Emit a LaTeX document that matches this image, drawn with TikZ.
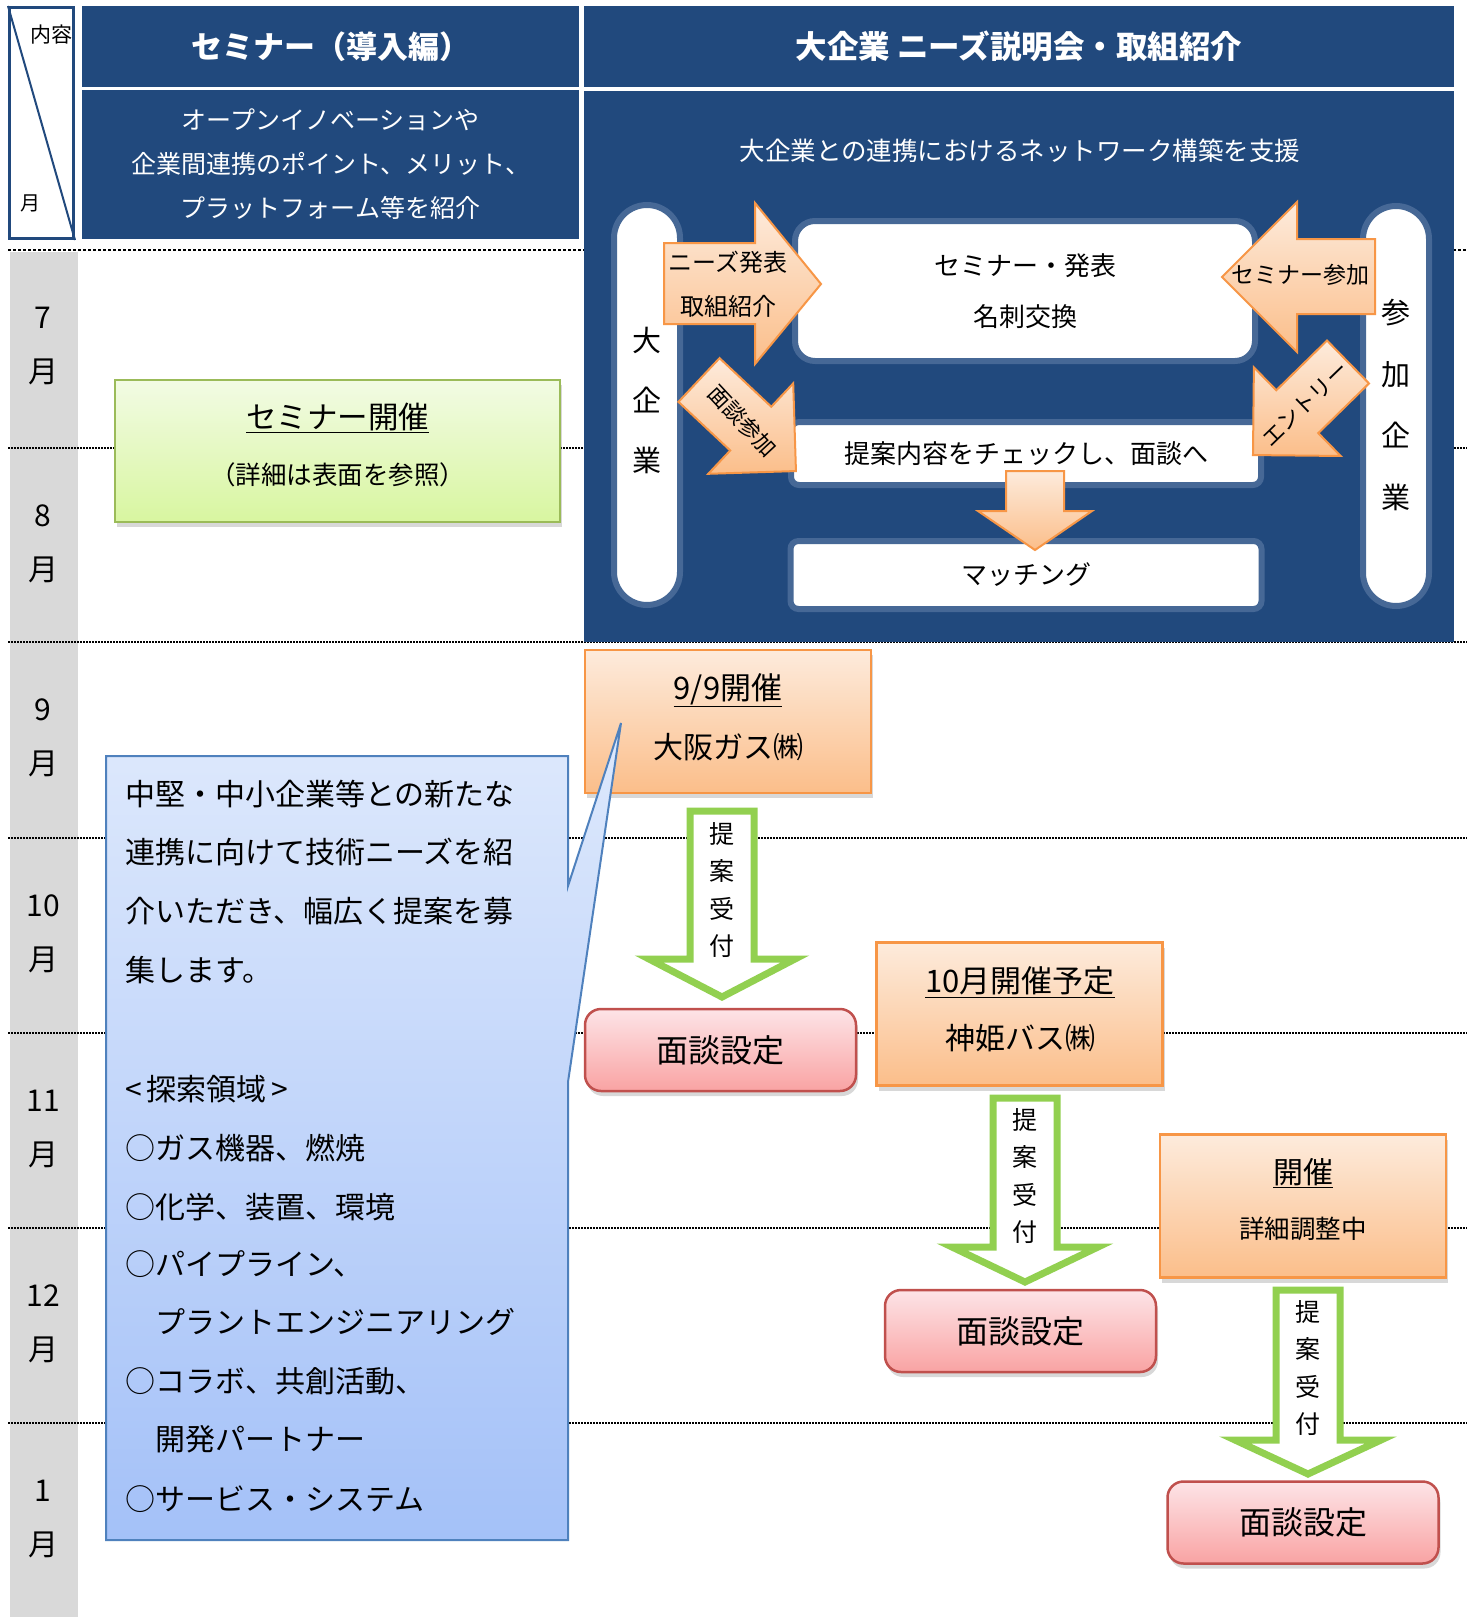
\documentclass[tikz,border=0pt]{standalone}
\usepackage{fontspec}
\setmainfont{Noto Sans CJK JP}
\usepackage{tikz}
\usetikzlibrary{shadows}

\definecolor{navyhead}{RGB}{33,73,125}
\definecolor{glowblue}{RGB}{70,104,150}
\definecolor{greyband}{RGB}{217,217,217}
\definecolor{greenline}{RGB}{155,187,89}
\definecolor{greentop}{RGB}{242,251,228}
\definecolor{greenbot}{RGB}{216,246,160}
\definecolor{orangeline}{RGB}{247,150,70}
\definecolor{orangetop}{RGB}{253,235,220}
\definecolor{orangebot}{RGB}{251,190,138}
\definecolor{pinkline}{RGB}{192,80,77}
\definecolor{pinktop}{RGB}{253,228,231}
\definecolor{pinkbot}{RGB}{249,163,163}
\definecolor{bluetop}{RGB}{222,233,252}
\definecolor{bluebot}{RGB}{164,193,248}
\definecolor{blueline}{RGB}{79,129,189}
\definecolor{arrowgreen}{RGB}{146,208,80}

\newcommand{\fsz}[2]{\fontsize{#1pt}{#2pt}\selectfont}

\tikzset{
  headbox/.style={fill=navyhead, text=white},
  rowline/.style={line width=1.3pt, dash pattern=on 1.6pt off 1.4pt},
  topline/.style={line width=2.8pt, dash pattern=on 3pt off 2pt},
  seminarbox/.style={draw=greenline, line width=2pt, top color=greentop, bottom color=greenbot,
    drop shadow={opacity=0.3, shadow xshift=2pt, shadow yshift=-5pt}},
  pill/.style={fill=white, draw=glowblue, line width=6pt, rounded corners=33pt,
    minimum width=66pt, minimum height=400pt},
  flowbox/.style={fill=white, draw=glowblue, line width=6pt},
  orarrow/.style={draw=orangeline, line width=2pt, top color=orangetop, bottom color=orangebot, line join=miter},
  eventbox/.style={draw=orangeline, line width=2.5pt, top color=orangetop, bottom color=orangebot,
    minimum width=286pt, minimum height=143pt,
    drop shadow={opacity=0.3, shadow xshift=2pt, shadow yshift=-5pt}},
  meetbox/.style={draw=pinkline, line width=2.5pt, top color=pinktop, bottom color=pinkbot,
    rounded corners=16pt, minimum width=271pt, minimum height=82pt, font=\fsz{32}{32},
    drop shadow={opacity=0.3, shadow xshift=2pt, shadow yshift=-5pt}},
  takearrow/.style={draw=arrowgreen, fill=white, line width=7pt, line join=miter},
  takelabel/.style={font=\fsz{25}{37.3}, align=center},
  callout/.style={draw=blueline, line width=2pt, top color=bluetop, bottom color=bluebot},
}

\begin{document}
\begin{tikzpicture}[x=1pt, y=-1pt, every node/.style={inner sep=0pt}]
  \fill[white] (0,0) rectangle (1467,1617);
  \useasboundingbox (0,0) rectangle (1467,1617);

  % month band and row lines
  \fill[greyband] (10,252) rectangle (78,1617);
  \draw[topline] (8,250) -- (1467,250);
  \foreach \yy in {448,642,838,1033,1228,1423}
    \draw[rowline] (8,\yy) -- (1467,\yy);
  \foreach \m/\yy in {7/250, 8/448, 9/642, 10/838, 11/1033, 12/1228, 1/1423} {
    \node (num\m) at (43,\yy+68) {\fsz{30}{30}\m};
    \node (tsuki\m) at (43,\yy+122) {\fsz{30}{30}月};
  }

  % header
  \node[draw=navyhead, line width=3pt, fill=white, minimum width=64pt, minimum height=231pt] (corner) at (41.5,123) {};
  \draw[navyhead, line width=2pt] (corner.north west) -- (corner.south east);
  \node (naiyo) at (51,35) {\fsz{21}{21}内容};
  \node (tsukihd) at (30,203) {\fsz{20}{20}月};

  \node[headbox, minimum width=497pt, minimum height=81pt] (semtitle) at (330.5,46.5)
    {\fsz{31}{31}\bfseries セミナー（導入編）};
  \node[headbox, minimum width=497pt, minimum height=149pt, align=center, font=\fsz{25}{44}] (semsub) at (330.5,164)
    {オープンイノベーションや\\企業間連携のポイント、メリット、\\プラットフォーム等を紹介};
  \node[headbox, minimum width=870pt, minimum height=81pt] (bigtitle) at (1019,46.5)
    {\fsz{31.5}{31.5}\bfseries 大企業 ニーズ説明会・取組紹介};
  \node[headbox, minimum width=870pt, minimum height=551pt] (bigbody) at (1019,366.5) {};
  \node[text=white] (support) at (1020,151) {\fsz{25.5}{25.5}大企業との連携におけるネットワーク構築を支援};

  % network diagram
  \node[pill] (bigco) at (647,405) {};
  \node[align=center, font=\fsz{29}{60}] (bigcotxt) at (647,400) {大\\企\\業};
  \node[pill] (member) at (1396,406) {};
  \node[align=center, font=\fsz{29}{61.5}] (membertxt) at (1396,405) {参\\加\\企\\業};
  \node[flowbox, rounded corners=20pt, minimum width=460pt, minimum height=140pt, align=center, font=\fsz{26}{51}] (present) at (1025,291)
    {セミナー・発表\\名刺交換};
  \node[flowbox, rounded corners=8pt, minimum width=470pt, minimum height=63pt, font=\fsz{26}{26}] (check) at (1026,453.5)
    {提案内容をチェックし、面談へ};
  \node[flowbox, rounded corners=8pt, minimum width=471pt, minimum height=68pt, font=\fsz{26}{26}] (matching) at (1026,575)
    {マッチング};

  \draw[orarrow] (664,243) -- (755,243) -- (755,203) -- (821,284) -- (755,364) -- (755,324) -- (664,324) -- cycle;
  \node[align=center, font=\fsz{24}{44}] (needs) at (728,284) {ニーズ発表\\取組紹介};
  \draw[orarrow] (1375,239) -- (1297,239) -- (1297,202) -- (1222,277) -- (1297,352) -- (1297,314) -- (1375,314) -- cycle;
  \node (join) at (1300,275) {\fsz{23}{23}セミナー参加};
  \begin{scope}[shift={(699,380)}, rotate=-43.2]
    \draw[orarrow] (0,-30) -- (71,-30) -- (71,-62) -- (133,0) -- (71,62) -- (71,30) -- (0,30) -- cycle;
  \end{scope}
  \node[rotate=-47] (mendan) at (743,421) {\fsz{22}{22}面談参加};
  \begin{scope}[shift={(1348,362)}, rotate=224.4]
    \draw[orarrow] (0,-30) -- (71,-30) -- (71,-62) -- (133,0) -- (71,62) -- (71,30) -- (0,30) -- cycle;
  \end{scope}
  \node[rotate=44] (entry) at (1305,404) {\fsz{22}{22}エントリー};
  \draw[orarrow] (1006,471) -- (1064,471) -- (1064,511) -- (1092,511) -- (1035,550) -- (978,511) -- (1006,511) -- cycle;

  % seminar
  \node[seminarbox, minimum width=445pt, minimum height=142pt] (semopen) at (337.5,451) {};
  \node (semopenttl) at (337.5,418) {\fsz{30.5}{30.5}\underline{セミナー開催}};
  \node (semopendtl) at (337.5,475) {\fsz{25.5}{25.5}（詳細は表面を参照）};

  % schedule
  \node[eventbox] (osaka) at (728,721.5) {};
  \node (osakattl) at (728,690) {\fsz{31}{31}\underline{9/9開催}};
  \node (osakaname) at (728,747) {\fsz{30}{30}大阪ガス㈱};
  \draw[takearrow] (690,811) -- (754,811) -- (754,959) -- (795,959) -- (722,997) -- (649,959) -- (690,959) -- cycle;
  \node[takelabel] (take1) at (722,890) {提\\案\\受\\付};
  \node[meetbox] (meet1) at (720.5,1050) {面談設定};

  \node[eventbox] (shinki) at (1019.5,1014) {};
  \node (shinkittl) at (1020,982) {\fsz{31}{31}\underline{10月開催予定}};
  \node (shinkiname) at (1020,1038) {\fsz{30}{30}神姫バス㈱};
  \draw[takearrow] (993,1098) -- (1057,1098) -- (1057,1247) -- (1098,1247) -- (1025,1282) -- (952,1247) -- (993,1247) -- cycle;
  \node[takelabel] (take2) at (1025,1176) {提\\案\\受\\付};
  \node[meetbox] (meet2) at (1020.5,1331) {面談設定};

  \node[eventbox] (pending) at (1303,1206) {};
  \node (pendingttl) at (1303,1173) {\fsz{30}{30}\underline{開催}};
  \node (pendingdtl) at (1303,1229) {\fsz{25.5}{25.5}詳細調整中};
  \draw[takearrow] (1276,1290) -- (1340,1290) -- (1340,1440) -- (1381,1440) -- (1308,1474) -- (1235,1440) -- (1276,1440) -- cycle;
  \node[takelabel] (take3) at (1308,1368) {提\\案\\受\\付};
  \node[meetbox] (meet3) at (1303,1522.5) {面談設定};

  % callout
  \draw[callout] (106,756) -- (568,756) -- (568,886) -- (621,723) -- (568,1082) -- (568,1540) -- (106,1540) -- cycle;
  \foreach \xx/\yy/\txt in {125/794/{中堅・中小企業等との新たな}, 125/852/{連携に向けて技術ニーズを紹},
      125/911/{介いただき、幅広く提案を募}, 125/970/{集します。}, 125/1089/{<\,探索領域\,>},
      125/1148/{○ガス機器、燃焼}, 125/1207/{○化学、装置、環境}, 125/1264/{○パイプライン、},
      155/1322/{プラントエンジニアリング}, 125/1381/{○コラボ、共創活動、}, 155/1439/{開発パートナー},
      125/1499/{○サービス・システム}}
    \node[anchor=west] at (\xx,\yy) {\fsz{30}{30}\txt};
\end{tikzpicture}
\end{document}
